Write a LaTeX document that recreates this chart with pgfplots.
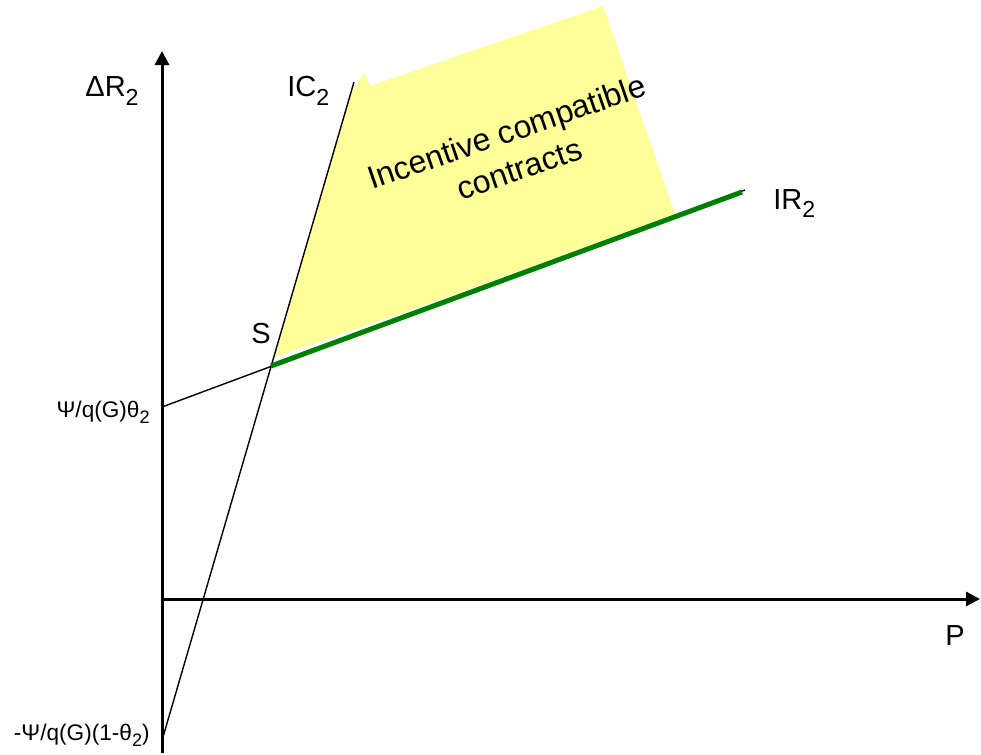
\documentclass[border=0pt]{standalone}
\usepackage{fontspec}
\setmainfont{Liberation Sans}
\usepackage{graphicx}
\usepackage{pgfplots}
\pgfplotsset{compat=1.18}
\usetikzlibrary{arrows.meta}
\definecolor{icyellow}{RGB}{255,255,153}
\definecolor{irgreen}{RGB}{0,128,0}
\newcommand{\sub}[1]{\raisebox{-0.3em}{\scalebox{0.8}{#1}}}

\begin{document}
\begin{tikzpicture}
	\begin{axis}[
	hide axis,
	scale only axis,
	width=490.5pt, height=377.5pt,
	xmin=0, xmax=981,
	ymin=0, ymax=755,
	y dir=reverse,
	clip=false,
	]
	% region of incentive compatible contracts
	\addplot[fill=icyellow, draw=none]
		coordinates {(275,357)(349,97)(364,72)(370,86)(603,6)(675,214)(428,304)(275,357)};
	% axes
	\addplot[black, line width=1.5pt, -{Triangle[length=7pt,width=7pt]}]
		coordinates {(162,753)(162,51)};
	\addplot[black, line width=1.5pt, -{Triangle[length=7pt,width=7pt]}]
		coordinates {(162,599)(980,599)};
	% IR2 and IC2
	\addplot[black, line width=0.7pt] coordinates {(162,407)(745,190)};
	\addplot[black, line width=0.7pt] coordinates {(163,737)(354,82)};
	\addplot[irgreen, line width=2.5pt] coordinates {(271,366)(742,192)};

	\node[anchor=base west, font=\fontsize{14.5}{16}\selectfont, inner sep=0pt] at (85,97) {ΔR\sub{2}};
	\node[anchor=base west, font=\fontsize{14.5}{16}\selectfont, inner sep=0pt] at (287,97) {IC\sub{2}};
	\node[anchor=base west, font=\fontsize{14.5}{16}\selectfont, inner sep=0pt] at (773,209) {IR\sub{2}};
	\node[anchor=base west, font=\fontsize{14.5}{16}\selectfont, inner sep=0pt] at (251,343) {S};
	\node[anchor=base west, font=\fontsize{14.5}{16}\selectfont, inner sep=0pt] at (945,645) {P};
	\node[anchor=base east, font=\fontsize{11.3}{13}\selectfont, inner sep=0pt] at (150,417) {Ψ/q(G)θ\sub{2}};
	\node[anchor=base east, font=\fontsize{11.3}{13}\selectfont, inner sep=0pt] at (150,740) {-Ψ/q(G)(1-θ\sub{2})};
	\node[rotate=19, align=center, font=\fontsize{16}{19.5}\selectfont, inner sep=0pt] at (513,150) {Incentive compatible\\contracts};
	\end{axis}
	\pgfresetboundingbox
	\useasboundingbox (current axis.south west) rectangle (current axis.north east);
\end{tikzpicture}
\end{document}
